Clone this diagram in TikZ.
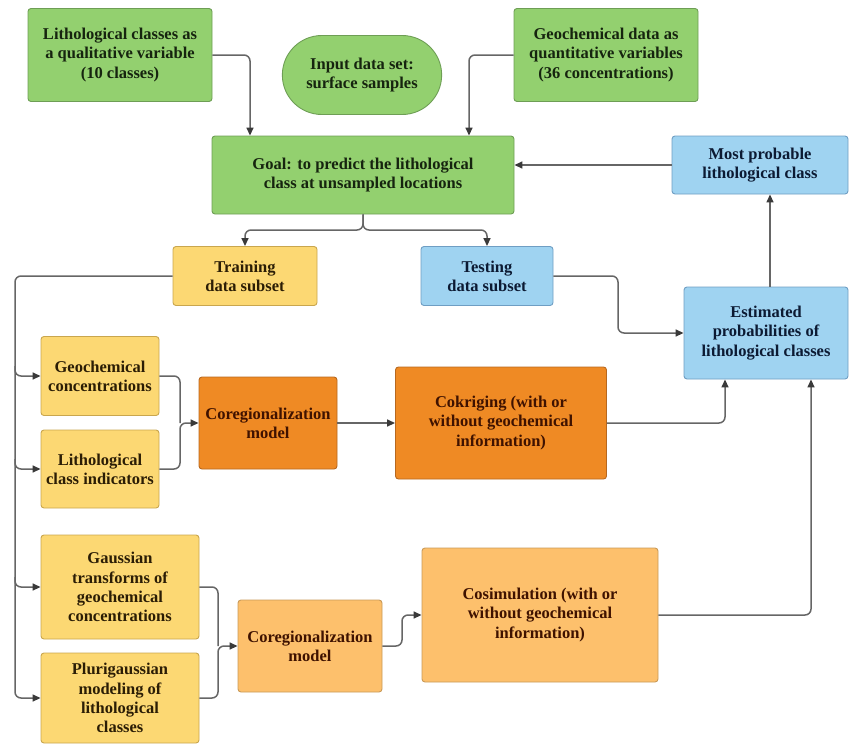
\documentclass[tikz,border=0pt]{standalone}
\usepackage{fontspec}
\setmainfont{Liberation Serif}
\newfontfamily\labelfont{Liberation Serif}
\usetikzlibrary{arrows.meta,shapes.misc}

\definecolor{gfill}{HTML}{93D06F}
\definecolor{gline}{HTML}{6E9E55}
\definecolor{gtext}{HTML}{16240F}
\definecolor{yfill}{HTML}{FCD873}
\definecolor{yline}{HTML}{C9A64E}
\definecolor{ytext}{HTML}{2B1D05}
\definecolor{ofill}{HTML}{EF8A24}
\definecolor{oline}{HTML}{B7681F}
\definecolor{otext}{HTML}{3F1200}
\definecolor{lofill}{HTML}{FDC06C}
\definecolor{loline}{HTML}{C99A58}
\definecolor{bfill}{HTML}{9FD3F1}
\definecolor{bline}{HTML}{6F9EC3}
\definecolor{btext}{HTML}{0C1A33}
\definecolor{wire}{HTML}{666666}
\definecolor{tip}{HTML}{3A3A3A}

\tikzset{
  labeltext/.style={font=\labelfont\bfseries\fontsize{16.5}{19.2}\selectfont},
  box/.style={rectangle, rounded corners=3pt, line width=0.9pt, align=center,
    inner sep=2pt, labeltext},
  greenbox/.style={box, fill=gfill, draw=gline, text=gtext},
  yellowbox/.style={box, fill=yfill, draw=yline, text=ytext},
  darkorange/.style={box, fill=ofill, draw=oline, text=otext},
  lightorange/.style={box, fill=lofill, draw=loline, text=otext},
  bluebox/.style={box, fill=bfill, draw=bline, text=btext},
  startstop/.style={rounded rectangle, line width=0.9pt, align=center,
    fill=gfill, draw=gline, text=gtext, labeltext},
  wirestyle/.style={draw=wire, line width=1.5pt, rounded corners=6pt},
  flow/.style={wirestyle, -{Triangle[length=8pt,width=7pt,fill=tip,color=tip]}},
}

\begin{document}
\begin{tikzpicture}[x=1pt,y=-1pt]
  \useasboundingbox (0,0) rectangle (850,744);

  % top row
  \node[greenbox, minimum width=184pt, minimum height=93pt] (lith) at (120,55)
    {Lithological classes as\\a qualitative variable\\(10 classes)};
  \node[startstop, minimum width=166pt, minimum height=79pt] (input) at (362,75)
    {Input data set:\\surface samples};
  \node[greenbox, minimum width=184pt, minimum height=93pt] (geo) at (606,55)
    {Geochemical data as\\quantitative variables\\(36 concentrations)};

  % goal and final result
  \node[greenbox, minimum width=302pt, minimum height=78pt] (goal) at (363,175)
    {Goal: to predict the lithological\\class at unsampled locations};
  \node[bluebox, minimum width=176pt, minimum height=58pt] (mp) at (760,165)
    {Most probable\\lithological class};

  % data subsets
  \node[yellowbox, minimum width=144pt, minimum height=59pt] (train) at (245,276)
    {Training\\data subset};
  \node[bluebox, minimum width=132pt, minimum height=59pt] (test) at (487,276)
    {Testing\\data subset};
  \node[bluebox, minimum width=164pt, minimum height=92pt] (est) at (766,333)
    {Estimated\\probabilities of\\lithological classes};

  % cokriging branch
  \node[yellowbox, minimum width=118pt, minimum height=79pt] (gconc) at (100,376)
    {Geochemical\\concentrations};
  \node[yellowbox, minimum width=118pt, minimum height=78pt] (lind) at (100,469)
    {Lithological\\class indicators};
  \node[darkorange, minimum width=138pt, minimum height=92pt] (coreg) at (268,423)
    {Coregionalization\\model};
  \node[darkorange, minimum width=211pt, minimum height=112pt] (cok) at (501,423)
    {Cokriging (with or\\without geochemical\\information)};

  % cosimulation branch
  \node[yellowbox, minimum width=158pt, minimum height=104pt] (gauss) at (120,587)
    {Gaussian\\transforms of\\geochemical\\concentrations};
  \node[yellowbox, minimum width=158pt, minimum height=90pt] (pluri) at (120,698)
    {Plurigaussian\\modeling of\\lithological\\classes};
  \node[lightorange, minimum width=144pt, minimum height=92pt] (coreg2) at (310,646)
    {Coregionalization\\model};
  \node[lightorange, minimum width=236pt, minimum height=134pt] (cosim) at (540,615)
    {Cosimulation (with or\\without geochemical\\information)};

  % routing columns
  \coordinate (xa) at (250,0);
  \coordinate (xb) at (469,0);
  \coordinate (xbus) at (15,0);
  \coordinate (xm1) at (180,0);
  \coordinate (xm2) at (218,0);
  \coordinate (xm3) at (402,0);
  \coordinate (xt) at (618,0);
  \coordinate (xk) at (725,0);
  \coordinate (xs) at (811,0);
  \coordinate (xp) at (770,0);
  \coordinate (ysplit) at (0,230);

  % inputs to the goal
  \draw[flow] (lith.east) -| (goal.north -| xa);
  \draw[flow] (geo.west) -| (goal.north -| xb);
  \draw[flow] (mp.west) -- (goal.east |- mp.west);

  % goal split into training and testing
  \draw[flow] (goal.south) |- (ysplit -| train.north) -- (train.north);
  \draw[flow] (goal.south) |- (ysplit -| test.north) -- (test.north);

  % training data bus on the left
  \draw[flow] (train.west) -- (train.west -| xbus) -- (pluri.west -| xbus) -- (pluri.west);
  \draw[flow] (gconc.west -| xbus) ++(0,-10) |- (gconc.west);
  \draw[flow] (lind.west -| xbus) ++(0,-10) |- (lind.west);
  \draw[flow] (gauss.west -| xbus) ++(0,-10) |- (gauss.west);

  % cokriging chain
  \draw[wirestyle] (gconc.east) -- (gconc.east -| xm1) -- (coreg.west -| xm1);
  \draw[flow] (lind.east) -- (lind.east -| xm1) -- (coreg.west -| xm1) -- (coreg.west);
  \draw[flow] (coreg.east) -- (cok.west);
  \draw[flow] (cok.east) -| (est.south -| xk);

  % cosimulation chain
  \draw[wirestyle] (gauss.east) -- (gauss.east -| xm2) -- (coreg2.west -| xm2);
  \draw[flow] (pluri.east) -- (pluri.east -| xm2) -- (coreg2.west -| xm2) -- (coreg2.west);
  \draw[flow] (coreg2.east) -- (coreg2.east -| xm3) -- (cosim.west -| xm3) -- (cosim.west);
  \draw[flow] (cosim.east) -| (est.south -| xs);

  % testing subset and final choice
  \draw[flow] (test.east) -- (test.east -| xt) -- (est.west -| xt) -- (est.west);
  \draw[flow] (est.north -| xp) -- (mp.south -| xp);
\end{tikzpicture}
\end{document}
